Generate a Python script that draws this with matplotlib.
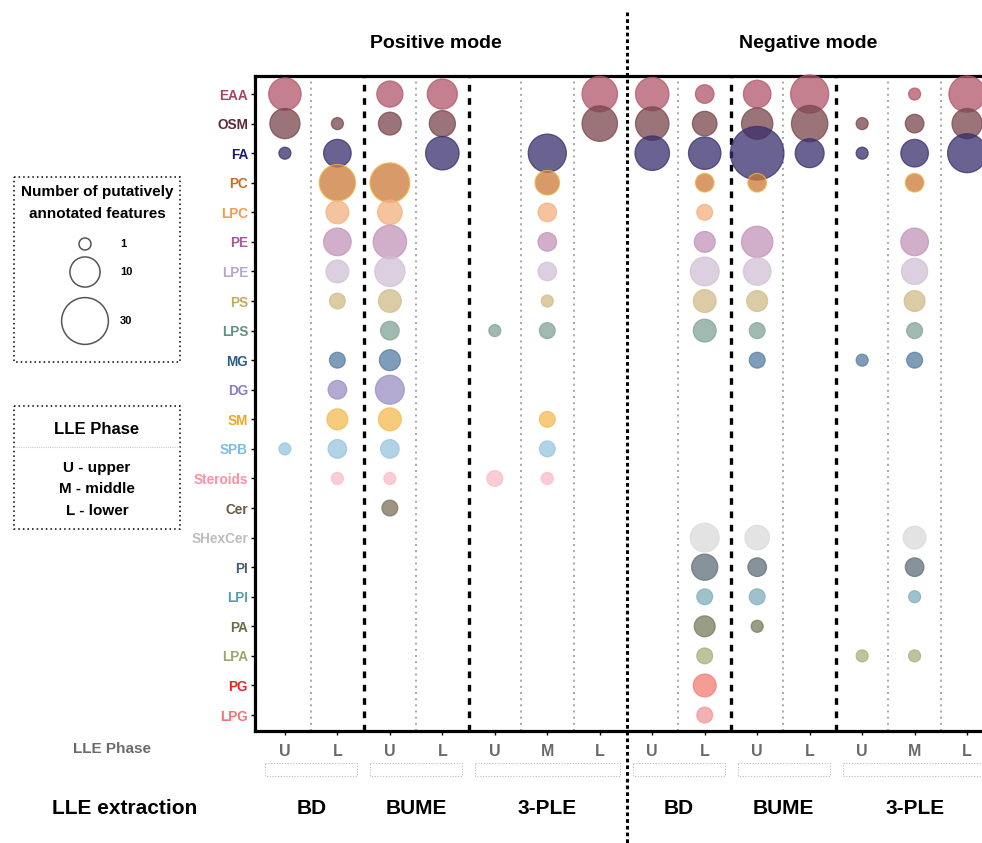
import numpy as np
import matplotlib.pyplot as plt
from matplotlib.colors import to_rgb
from matplotlib.patches import Rectangle
from matplotlib.lines import Line2D

plt.rcParams['font.family'] = ['Liberation Sans', 'DejaVu Sans']

# lipid classes (top to bottom), label colours and bubble colours (as seen on white)
lipid_classes = ['EAA', 'OSM', 'FA', 'PC', 'LPC', 'PE', 'LPE', 'PS', 'LPS', 'MG', 'DG',
                 'SM', 'SPB', 'Steroids', 'Cer', 'SHexCer', 'PI', 'LPI', 'PA', 'LPA',
                 'PG', 'LPG']
label_colors = ['#A5465E', '#5C2A35', '#1E1A6E', '#D06A20', '#F59A50', '#A8579A',
                '#B9A6CC', '#C9A85F', '#5E9182', '#2D5C87', '#8B7BC2', '#F3A623',
                '#7BBCE4', '#FF8FA3', '#6B5A40', '#BDBDBD', '#4A5E6B', '#5A9BB0',
                '#6B6F48', '#9AA86A', '#EE2222', '#F57077']
bubble_colors = ['#C4808E', '#9A7478', '#6A6290', '#D89A68', '#F5C49E', '#D1AEC9',
                 '#DCD0E0', '#DCCDA5', '#A0BAB2', '#7F9DB8', '#B3AAD2', '#F6CB7C',
                 '#B2D3E6', '#FBCCD6', '#9E9482', '#E3E3E3', '#87939A', '#9EC2CD',
                 '#9A9C85', '#BDC39C', '#F59C95', '#F4B0B3']

phase_labels = ['U', 'L', 'U', 'L', 'U', 'M', 'L']
extraction_groups = ['BD', 'BUME', '3-PLE']
group_spans = [(0, 1), (2, 3), (4, 6)]

# number of putatively annotated features, columns follow phase_labels
pos_counts = [
    [12, 0, 7, 10, 0, 0, 15],   # EAA
    [10, 1, 5, 7, 0, 0, 15],    # OSM
    [1, 8, 0, 13, 0, 18, 0],    # FA
    [0, 16, 20, 0, 0, 6, 0],    # PC
    [0, 5, 6, 0, 0, 3, 0],      # LPC
    [0, 8, 13, 0, 0, 3, 0],     # PE
    [0, 5, 10, 0, 0, 3, 0],     # LPE
    [0, 2, 5, 0, 0, 1, 0],      # PS
    [0, 0, 3, 0, 1, 2, 0],      # LPS
    [0, 2, 4, 0, 0, 0, 0],      # MG
    [0, 3, 9, 0, 0, 0, 0],      # DG
    [0, 4, 5, 0, 0, 2, 0],      # SM
    [1, 3, 3, 0, 0, 2, 0],      # SPB
    [0, 1, 1, 0, 2, 1, 0],      # Steroids
    [0, 0, 2, 0, 0, 0, 0],      # Cer
    [0, 0, 0, 0, 0, 0, 0],      # SHexCer
    [0, 0, 0, 0, 0, 0, 0],      # PI
    [0, 0, 0, 0, 0, 0, 0],      # LPI
    [0, 0, 0, 0, 0, 0, 0],      # PA
    [0, 0, 0, 0, 0, 0, 0],      # LPA
    [0, 0, 0, 0, 0, 0, 0],      # PG
    [0, 0, 0, 0, 0, 0, 0],      # LPG
]
neg_counts = [
    [13, 3, 8, 18, 0, 1, 16],   # EAA
    [13, 6, 11, 16, 1, 3, 10],  # OSM
    [14, 12, 42, 9, 1, 8, 19],  # FA
    [0, 3, 3, 0, 0, 3, 0],      # PC
    [0, 2, 0, 0, 0, 0, 0],      # LPC
    [0, 4, 11, 0, 0, 8, 0],     # PE
    [0, 9, 8, 0, 0, 7, 0],      # LPE
    [0, 5, 4, 0, 0, 4, 0],      # PS
    [0, 5, 2, 0, 0, 2, 0],      # LPS
    [0, 0, 2, 0, 1, 2, 0],      # MG
    [0, 0, 0, 0, 0, 0, 0],      # DG
    [0, 0, 0, 0, 0, 0, 0],      # SM
    [0, 0, 0, 0, 0, 0, 0],      # SPB
    [0, 0, 0, 0, 0, 0, 0],      # Steroids
    [0, 0, 0, 0, 0, 0, 0],      # Cer
    [0, 9, 6, 0, 0, 5, 0],      # SHexCer
    [0, 7, 3, 0, 0, 3, 0],      # PI
    [0, 2, 2, 0, 0, 1, 0],      # LPI
    [0, 4, 1, 0, 0, 0, 0],      # PA
    [0, 2, 0, 0, 1, 1, 0],      # LPA
    [0, 5, 0, 0, 0, 0, 0],      # PG
    [0, 2, 0, 0, 0, 0, 0],      # LPG
]
legend_counts = [1, 10, 30]

W, H = 982, 843
ALPHA = 0.75


def bubble_area(n):
    # diameter in pixels grows ~ n^0.4, converted to points^2 for scatter
    d_px = 12 * np.power(np.asarray(n, dtype=float), 0.4)
    return (d_px * 0.72) ** 2


def unblend(hex_color, alpha=ALPHA):
    # colour that gives hex_color when drawn with alpha on white
    rgb = np.array(to_rgb(hex_color))
    return tuple(np.clip(1 - (1 - rgb) / alpha, 0, 1))


fig = plt.figure(figsize=(W / 100, H / 100), dpi=100)
ax = fig.add_axes([255 / W, 1 - 731 / H, 742 / W, 655 / H])

counts = np.hstack([np.array(pos_counts), np.array(neg_counts)])
n_rows, n_cols = counts.shape
yy, xx = np.nonzero(counts)
vals = counts[yy, xx]
face = [unblend(bubble_colors[r]) for r in yy]
edge = ['#F2B642' if lipid_classes[r] == 'PC' else unblend(bubble_colors[r]) for r in yy]
ax.scatter(xx, yy, s=bubble_area(vals), c=face, alpha=ALPHA,
           edgecolors=edge, linewidths=0.9, clip_on=False, zorder=3)

# separators
for x in [0.5, 2.5, 4.5, 5.5, 7.5, 9.5, 11.5, 12.5]:
    ax.axvline(x, color='#9a9a9a', lw=1.2, ls=(0, (1.2, 2.5)), zorder=1)
for x in [1.5, 3.5, 8.5, 10.5]:
    ax.axvline(x, color='black', lw=2.4, ls=(0, (2, 2)), zorder=2)

ax.set_xlim(-0.57, 13.57)
ax.set_ylim(21.54, -0.61)

ax.set_yticks(range(n_rows))
ax.set_yticklabels(lipid_classes, fontsize=9.8, fontweight='bold')
for lab, col in zip(ax.get_yticklabels(), label_colors):
    lab.set_color(col)
ax.set_xticks(range(n_cols))
ax.set_xticklabels(phase_labels * 2, fontsize=11.5, fontweight='bold', color='#6a6a6a')
ax.tick_params(axis='y', length=3, width=1, pad=2)
ax.tick_params(axis='x', length=3, width=1, pad=6)

for side in ['left', 'top', 'bottom']:
    ax.spines[side].set_linewidth(2.3)
ax.spines['right'].set_visible(False)

# overlay in pixel coordinates for legends and annotations
ov = fig.add_axes([0, 0, 1, 1], zorder=5)
ov.set_xlim(0, W)
ov.set_ylim(H, 0)
ov.axis('off')
ov.patch.set_alpha(0)

# positive / negative divider
ov.add_line(Line2D([627, 627], [12, H], color='black', lw=2.2, ls=(0, (1.2, 1.0))))

ov.text(436, 43, 'Positive mode', ha='center', va='center', fontsize=14, fontweight='bold')
ov.text(808, 43, 'Negative mode', ha='center', va='center', fontsize=14, fontweight='bold')

# size legend
ov.add_patch(Rectangle((14, 177), 166, 185, fill=False, ec='black', lw=1.1, ls=(0, (1, 2))))
ov.text(97, 192, 'Number of putatively', ha='center', va='center', fontsize=11, fontweight='bold')
ov.text(97, 214, 'annotated features', ha='center', va='center', fontsize=11, fontweight='bold')
leg_y = [244, 272, 321]
ov.scatter([85] * len(legend_counts), leg_y, s=bubble_area(legend_counts),
           facecolors='none', edgecolors='#555555', linewidths=1.1)
for n, y in zip(legend_counts, leg_y):
    ov.text(120, y, str(n), ha='left', va='center', fontsize=8, fontweight='bold')

# phase legend
ov.add_patch(Rectangle((14, 406), 166, 123, fill=False, ec='black', lw=1.1, ls=(0, (1, 2))))
ov.add_line(Line2D([14, 180], [447, 447], color='#cccccc', lw=0.8, ls=(0, (1, 1))))
ov.text(97, 429, 'LLE Phase', ha='center', va='center', fontsize=12, fontweight='bold')
for y, t in zip([468, 489, 511], ['U - upper', 'M - middle', 'L - lower']):
    ov.text(97, y, t, ha='center', va='center', fontsize=11, fontweight='bold')

# bottom annotations
ov.text(112, 749, 'LLE Phase', ha='center', va='center', fontsize=11, fontweight='bold',
        color='#6a6a6a')
ov.text(125, 808, 'LLE extraction', ha='center', va='center', fontsize=15, fontweight='bold')

col_px = lambda c: 285 + c * 52.5
for offset in [0, 7]:
    for name, (a, b) in zip(extraction_groups, group_spans):
        x0 = col_px(a + offset - 0.38)
        x1 = col_px(b + offset + 0.38)
        ov.add_patch(Rectangle((x0, 763), x1 - x0, 13, fill=False, ec='#bbbbbb',
                               lw=0.8, ls=(0, (1, 1.5))))
        ov.text((col_px(a + offset) + col_px(b + offset)) / 2, 808, name,
                ha='center', va='center', fontsize=15, fontweight='bold')

fig.savefig('out.png', dpi=100)
